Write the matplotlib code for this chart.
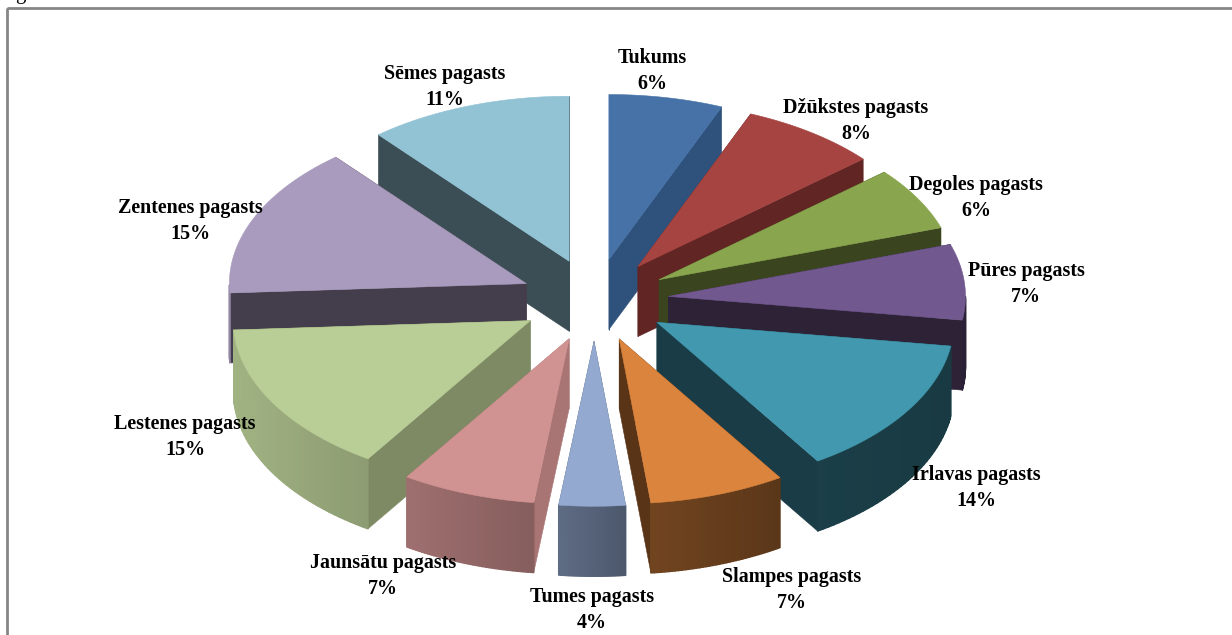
#!/usr/bin/env python3
import numpy as np
import matplotlib
matplotlib.use("Agg")
import matplotlib.pyplot as plt
from matplotlib.collections import PolyCollection
from matplotlib.patches import Polygon, Rectangle

# ── DATA ──────────────────────────────────────────────────────────────────────
names = ["Tukums", "Džūkstes pagasts", "Degoles pagasts", "Pūres pagasts",
         "Irlavas pagasts", "Slampes pagasts", "Tumes pagasts", "Jaunsātu pagasts",
         "Lestenes pagasts", "Zentenes pagasts", "Sēmes pagasts"]
shares = [6.2, 7.5, 6.2, 7.4, 13.6, 7.4, 3.6, 7.3, 14.9, 14.8, 11.1]

# ── STYLE ─────────────────────────────────────────────────────────────────────
top_colors = ["#4672A8", "#A64441", "#89A54E", "#71588F", "#4198AF", "#DB843D",
              "#93A9CF", "#D19392", "#B9CD96", "#A99BBD", "#91C3D5"]
wall_colors = ["#2F527C", "#612524", "#3A451F", "#2D2236", "#1A3C47", "#5A3417",
               "#4F5D75", "#A97574", "#7E8A63", "#443D4C", "#3C4E55"]
label_x = [652, 856, 976, 1026, 976, 792, 592, 383, 185, 190, 445]
label_y = [71, 121, 198, 284, 488, 590, 610, 576, 437, 221, 87]

CX, CY = 594.5, 300
RX, RY = 297, 165
EXPLODE = 0.25
DEPTH = 70


def rim_shade(u):
    # rim gets darker going left to right
    return np.interp(u, [-1, -0.55, -0.1, 0.1, 0.55, 1],
                     [0.87, 0.76, 0.63, 0.52, 0.41, 0.38])


fig = plt.figure(figsize=(12.32, 6.35), dpi=100)
ax = fig.add_axes([0, 0, 1, 1])
ax.set_xlim(0, 1232)
ax.set_ylim(635, 0)
ax.axis("off")

ax.add_patch(Rectangle((7, 8), 1240, 640, fill=False, ec="#868686", lw=2))
ax.text(20, -1, "g", family="Liberation Serif", fontsize=15, ha="center", va="baseline")

edges = np.radians(np.concatenate([[0], np.cumsum(shares)]) / np.sum(shares) * 360)

slices = []
for i in range(len(shares)):
    mid = (edges[i] + edges[i + 1]) / 2
    tip = np.array([CX + EXPLODE * RX * np.sin(mid), CY - EXPLODE * RY * np.cos(mid)])
    slices.append((tip[1], i, tip))

# back to front so nearer slices cover the walls behind them
for _, i, tip in sorted(slices, key=lambda s: s[0]):
    t = np.linspace(edges[i], edges[i + 1], 40)
    arc = np.column_stack([tip[0] + RX * np.sin(t), tip[1] - RY * np.cos(t)])
    down = np.array([0, DEPTH])

    for end in (arc[0], arc[-1]):
        ax.add_patch(Polygon([tip, end, end + down, tip + down],
                             fc=wall_colors[i], ec=wall_colors[i], lw=0.4))

    # only the front half of the rim can be seen
    quads, colors = [], []
    base = np.array(matplotlib.colors.to_rgb(top_colors[i]))
    for k in range(len(t) - 1):
        if np.cos((t[k] + t[k + 1]) / 2) > 0:
            continue
        quads.append([arc[k], arc[k + 1], arc[k + 1] + down, arc[k] + down])
        colors.append(base * rim_shade(np.sin((t[k] + t[k + 1]) / 2)))
    ax.add_collection(PolyCollection(quads, facecolors=colors, edgecolors="face", linewidths=1.0))

    ax.add_patch(Polygon(np.vstack([tip, arc]), fc=top_colors[i], ec=top_colors[i], lw=0.4))

for name, val, x, y in zip(names, shares, label_x, label_y):
    ax.text(x, y, f"{name}\n{val:.0f}%", family="Liberation Serif", fontweight="bold",
            fontsize=14.4, ha="center", va="center", linespacing=1.36, color="black")

fig.savefig("out.png", dpi=100)
